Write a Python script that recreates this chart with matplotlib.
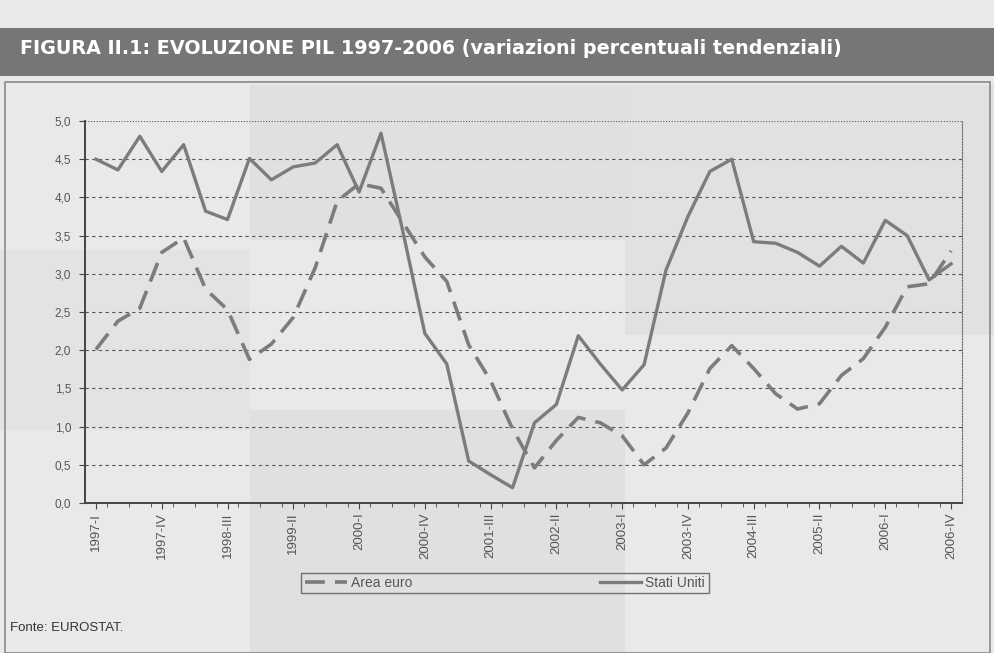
import matplotlib.pyplot as plt
from matplotlib.patches import Rectangle

# quarterly data 1997-I .. 2006-IV (variazioni % tendenziali)
years = list(range(1997, 2007))
quarter_names = ["I", "II", "III", "IV"]
quarters = [f"{y}-{q}" for y in years for q in quarter_names]

area_euro = [2.01, 2.38, 2.55, 3.28, 3.47, 2.80, 2.53, 1.88, 2.08, 2.43,
             3.08, 3.95, 4.18, 4.12, 3.67, 3.22, 2.90, 2.07, 1.60, 0.97,
             0.46, 0.82, 1.12, 1.05, 0.88, 0.50, 0.72, 1.18, 1.76, 2.06,
             1.76, 1.43, 1.23, 1.30, 1.67, 1.89, 2.30, 2.83, 2.87, 3.30]

stati_uniti = [4.50, 4.36, 4.80, 4.34, 4.69, 3.82, 3.71, 4.51, 4.23, 4.40,
               4.45, 4.69, 4.07, 4.84, 3.55, 2.22, 1.82, 0.55, 0.37, 0.20,
               1.05, 1.29, 2.19, 1.82, 1.48, 1.81, 3.05, 3.75, 4.34, 4.50,
               3.42, 3.40, 3.28, 3.10, 3.36, 3.14, 3.70, 3.50, 2.92, 3.13]

tick_labels = ["1997-I", "1997-IV", "1998-III", "1999-II", "2000-I", "2000-IV",
               "2001-III", "2002-II", "2003-I", "2003-IV", "2004-III", "2005-II",
               "2006-I", "2006-IV"]

y_ticks = [0.0, 0.5, 1.0, 1.5, 2.0, 2.5, 3.0, 3.5, 4.0, 4.5, 5.0]

title = "FIGURA II.1: EVOLUZIONE PIL 1997-2006 (variazioni percentuali tendenziali)"
source = "Fonte: EUROSTAT."

W, H = 995, 653
fig = plt.figure(figsize=(W / 100, H / 100), dpi=100)
fig.patch.set_facecolor("#e9e9e9")

# scanned-paper patches and frame (pixel coords -> figure fraction)
def px_rect(x0, y0, x1, y1, **kw):
    r = Rectangle((x0 / W, 1 - y1 / H), (x1 - x0) / W, (y1 - y0) / H,
                  transform=fig.transFigure, **kw)
    fig.add_artist(r)
    return r

px_rect(250, 85, 625, 240, facecolor="#e0e0e0", edgecolor="none", zorder=0)
px_rect(625, 85, 995, 335, facecolor="#e1e1e1", edgecolor="none", zorder=0)
px_rect(250, 410, 625, 653, facecolor="#e0e0e0", edgecolor="none", zorder=0)
px_rect(0, 250, 250, 430, facecolor="#e3e3e3", edgecolor="none", zorder=0)
px_rect(5, 82, 990, 653, facecolor="none", edgecolor="#8a8a8a", lw=1.2, zorder=1)

# title banner
px_rect(0, 28, 995, 76, facecolor="#767676", edgecolor="none", zorder=1)
fig.text(20 / W, 1 - 49 / H, title, color="white", fontsize=13.8,
         fontweight="bold", family="DejaVu Sans", va="center", ha="left")

ax = fig.add_axes([85 / W, 1 - 503 / H, (962 - 85) / W, (503 - 121) / H])
ax.set_facecolor("none")

x = list(range(len(quarters)))
ax.plot(x, area_euro, color="#7c7c7c", lw=2.6, dashes=(5.5, 2.8),
        solid_capstyle="butt", label="Area euro", zorder=3)
ax.plot(x, stati_uniti, color="#7c7c7c", lw=2.4, label="Stati Uniti", zorder=3)

ax.set_xlim(-0.5, len(quarters) - 0.5)
ax.set_ylim(0, 5)
ax.set_yticks(y_ticks)
ax.set_yticklabels([f"{v:.1f}".replace(".", ",") for v in y_ticks],
                   fontsize=8.5, color="#555555", family="Liberation Sans")
ax.set_xticks(x[::3])
ax.set_xticklabels(tick_labels, rotation=90, fontsize=9.5, color="#555555",
                   family="Liberation Sans")
ax.set_xticks([i + 0.5 for i in x[:-1]], minor=True)
ax.tick_params(axis="x", which="major", length=4, color="#444444", pad=3)
ax.tick_params(axis="x", which="minor", length=3, color="#444444")
ax.tick_params(axis="y", length=4, color="#444444", pad=6)

for v in y_ticks[1:-1]:
    ax.axhline(v, color="#555555", lw=0.8, dashes=(3, 3), zorder=1)
ax.axhline(5.0, color="#555555", lw=0.8, dashes=(1, 1.5), zorder=1)

ax.spines["left"].set_color("#444444")
ax.spines["left"].set_linewidth(1.4)
ax.spines["bottom"].set_color("#444444")
ax.spines["bottom"].set_linewidth(1.4)
ax.spines["top"].set_visible(False)
ax.spines["right"].set_color("#666666")
ax.spines["right"].set_linewidth(0.8)
ax.spines["right"].set_linestyle((0, (1, 1.5)))

leg = ax.legend(loc="center", bbox_to_anchor=((505 - 85) / (962 - 85), -(583 - 503) / (503 - 121)),
                ncol=2, frameon=True, handlelength=3.0,
                columnspacing=13.5, handletextpad=0.3, borderpad=0.25,
                borderaxespad=0, prop={"family": "Liberation Sans", "size": 10})
leg.get_frame().set_edgecolor("#555555")
leg.get_frame().set_facecolor("none")
leg.get_frame().set_linewidth(1.0)
leg.get_frame().set_boxstyle("square", pad=0.0)
for t in leg.get_texts():
    t.set_color("#555555")

fig.text(10 / W, 1 - 628 / H, source, fontsize=9.5, color="#333333",
         family="Liberation Sans", va="center", ha="left")

fig.savefig("out.png", dpi=100, facecolor=fig.get_facecolor())
